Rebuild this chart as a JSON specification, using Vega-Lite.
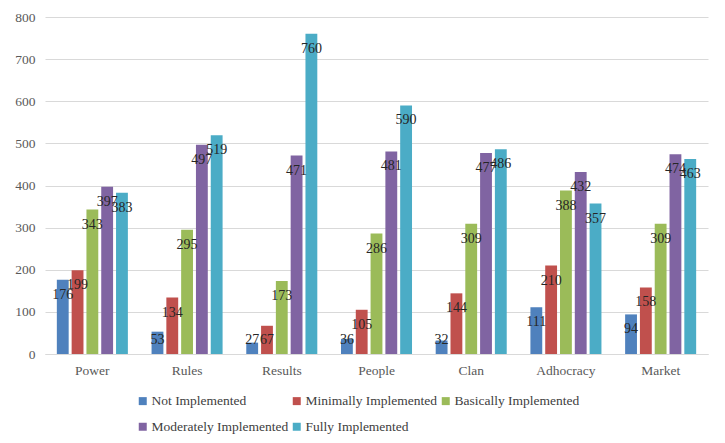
{
  "$schema": "https://vega.github.io/schema/vega-lite/v6.json",
  "width": 663,
  "height": 337,
  "autosize": {"type": "none"},
  "padding": {"left": 45, "top": 17, "right": 17, "bottom": 89},
  "background": "white",
  "config": {"view": {"stroke": null}, "font": "'Liberation Serif', 'Times New Roman', serif"},
  "data": {"values": [
    {"category": "Power", "level": "Not Implemented", "value": 176},
    {"category": "Power", "level": "Minimally Implemented", "value": 199},
    {"category": "Power", "level": "Basically Implemented", "value": 343},
    {"category": "Power", "level": "Moderately Implemented", "value": 397},
    {"category": "Power", "level": "Fully Implemented", "value": 383},
    {"category": "Rules", "level": "Not Implemented", "value": 53},
    {"category": "Rules", "level": "Minimally Implemented", "value": 134},
    {"category": "Rules", "level": "Basically Implemented", "value": 295},
    {"category": "Rules", "level": "Moderately Implemented", "value": 497},
    {"category": "Rules", "level": "Fully Implemented", "value": 519},
    {"category": "Results", "level": "Not Implemented", "value": 27},
    {"category": "Results", "level": "Minimally Implemented", "value": 67},
    {"category": "Results", "level": "Basically Implemented", "value": 173},
    {"category": "Results", "level": "Moderately Implemented", "value": 471},
    {"category": "Results", "level": "Fully Implemented", "value": 760},
    {"category": "People", "level": "Not Implemented", "value": 36},
    {"category": "People", "level": "Minimally Implemented", "value": 105},
    {"category": "People", "level": "Basically Implemented", "value": 286},
    {"category": "People", "level": "Moderately Implemented", "value": 481},
    {"category": "People", "level": "Fully Implemented", "value": 590},
    {"category": "Clan", "level": "Not Implemented", "value": 32},
    {"category": "Clan", "level": "Minimally Implemented", "value": 144},
    {"category": "Clan", "level": "Basically Implemented", "value": 309},
    {"category": "Clan", "level": "Moderately Implemented", "value": 477},
    {"category": "Clan", "level": "Fully Implemented", "value": 486},
    {"category": "Adhocracy", "level": "Not Implemented", "value": 111},
    {"category": "Adhocracy", "level": "Minimally Implemented", "value": 210},
    {"category": "Adhocracy", "level": "Basically Implemented", "value": 388},
    {"category": "Adhocracy", "level": "Moderately Implemented", "value": 432},
    {"category": "Adhocracy", "level": "Fully Implemented", "value": 357},
    {"category": "Market", "level": "Not Implemented", "value": 94},
    {"category": "Market", "level": "Minimally Implemented", "value": 158},
    {"category": "Market", "level": "Basically Implemented", "value": 309},
    {"category": "Market", "level": "Moderately Implemented", "value": 474},
    {"category": "Market", "level": "Fully Implemented", "value": 463}
  ]},
  "encoding": {
    "x": {
      "field": "category", "type": "nominal",
      "sort": ["Power", "Rules", "Results", "People", "Clan", "Adhocracy", "Market"],
      "scale": {"paddingInner": 0.25, "paddingOuter": 0.125},
      "axis": {"title": null, "labelAngle": 0, "ticks": false, "domainColor": "#d9d9d9", "labelPadding": 9, "labelFont": "'Liberation Serif', 'Times New Roman', serif", "labelFontSize": 13.5, "labelColor": "#595959"}
    },
    "xOffset": {
      "field": "level", "type": "nominal",
      "sort": ["Not Implemented", "Minimally Implemented", "Basically Implemented", "Moderately Implemented", "Fully Implemented"],
      "scale": {"paddingInner": 0.2}
    },
    "y": {
      "field": "value", "type": "quantitative",
      "scale": {"domain": [0, 800]},
      "axis": {"title": null, "values": [0, 100, 200, 300, 400, 500, 600, 700, 800], "domain": false, "ticks": false, "gridColor": "#d9d9d9", "labelPadding": 10, "labelFont": "'Liberation Serif', 'Times New Roman', serif", "labelFontSize": 13.5, "labelColor": "#595959"}
    }
  },
  "layer": [
    {
      "mark": {"type": "bar"},
      "encoding": {
        "color": {
          "field": "level", "type": "nominal",
          "sort": ["Not Implemented", "Minimally Implemented", "Basically Implemented", "Moderately Implemented", "Fully Implemented"],
          "scale": {"range": ["#4F81BD", "#C0504D", "#9BBB59", "#8064A2", "#4BACC6"]},
          "legend": {"orient": "none", "legendX": 91, "legendY": 377, "direction": "horizontal", "columns": 3, "title": null, "symbolType": "square", "symbolSize": 64, "symbolStrokeWidth": 0, "labelFont": "'Liberation Serif', 'Times New Roman', serif", "labelFontSize": 13.5, "labelColor": "#404040", "columnPadding": 1, "rowPadding": 11, "padding": 0, "labelOffset": 2}
        }
      }
    },
    {
      "mark": {"type": "text", "baseline": "middle", "align": "center", "dy": {"expr": "min(15, datum.value*0.42125-14)"}, "font": "'Liberation Serif', 'Times New Roman', serif", "fontSize": 14, "color": "#262626"},
      "encoding": {"text": {"field": "value", "type": "quantitative"}}
    }
  ]
}
